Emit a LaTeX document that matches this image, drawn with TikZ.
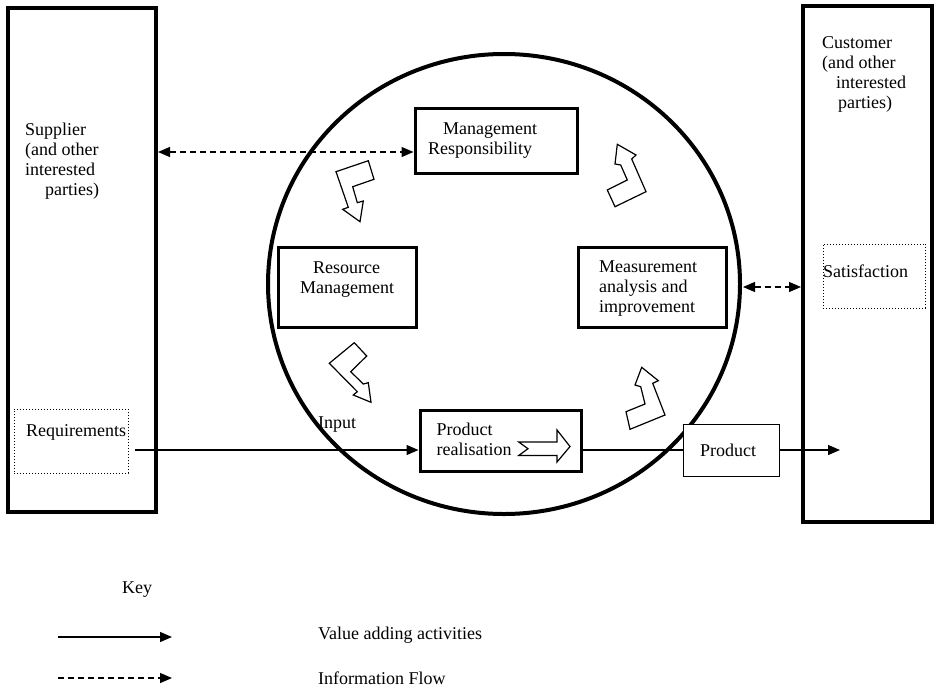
\documentclass[tikz,border=0pt]{standalone}
\usepackage{fontspec}
\setmainfont{Liberation Serif}
\usetikzlibrary{arrows.meta,shapes.geometric}

\begin{document}
\begin{tikzpicture}[x=1pt,y=-1pt,
  every node/.style={font=\fontsize{18}{20}\selectfont, inner sep=0pt},
  panel/.style={draw, line width=4pt, rectangle, inner sep=0pt},
  stage/.style={draw, line width=3pt, rectangle, inner sep=0pt},
  plainbox/.style={draw, line width=1pt, fill=white, rectangle, inner sep=0pt},
  dotbox/.style={draw, line width=1pt, dotted, rectangle, inner sep=0pt},
  txt/.style={anchor=west, align=left},
  flow/.style={line width=1.3pt, -{Triangle[length=12pt,width=10pt]}},
  info/.style={line width=1.3pt, dash pattern=on 6pt off 4pt,
               {Triangle[length=12pt,width=10pt]}-{Triangle[length=12pt,width=10pt]}},
  infokey/.style={line width=1.3pt, dash pattern=on 6pt off 4pt, -{Triangle[length=12pt,width=10pt]}},
  turn/.style={draw, line width=1.2pt, fill=white, line join=miter}]

\useasboundingbox (0,0) rectangle (936,688);

% outer parties
\node[panel, minimum width=148.5pt, minimum height=504pt] (supplier) at (81.75,260) {};
\node[panel, minimum width=129pt, minimum height=516pt] (customer) at (867.5,264) {};

% process stages
\node[stage, minimum width=162pt, minimum height=65pt] (mgmt) at (496,140.5) {};
\node[stage, minimum width=138pt, minimum height=79.5pt] (res) at (347,287.25) {};
\node[stage, minimum width=148pt, minimum height=80pt] (meas) at (652,287) {};
\node[stage, minimum width=161.5pt, minimum height=61.5pt] (real) at (500.75,440.75) {};

% dotted inputs / outputs
\node[dotbox, minimum width=114pt, minimum height=64pt] (req) at (71,441.3) {};
\node[dotbox, minimum width=102.4pt, minimum height=64pt] (sat) at (874.5,276) {};

% texts
\node[txt] (tsup) at (25,161) {Supplier\\(and other\\interested\\\hspace*{20pt}parties)};
\node[txt] (tcus) at (822,74.5) {Customer\\(and other\\\hspace*{14pt}interested\\\hspace*{16pt}parties)};
\node[txt] (tmgmt) at (428,140.5) {\hspace*{15pt}Management\\Responsibility};
\node[txt] (tres) at (300,279.5) {\hspace*{13pt}Resource\\Management};
\node[txt] (tmeas) at (599,289) {Measurement\\analysis and\\improvement};
\node[txt] (treal) at (436.5,439.5) {Product\\realisation};
\node[txt] (tin) at (318,425) {Input};
\node[txt] (tsat) at (823,271) {Satisfaction};
\node[txt] (treq) at (26,432) {Requirements};
\node[txt] (tkey) at (122,590) {Key};
\node[txt] (tval) at (318,635) {Value adding activities};
\node[txt] (tinfo) at (318,678) {Information Flow};

% process cycle, drawn over the labels it crosses
\node[draw, ellipse, line width=4pt, minimum width=472pt, minimum height=460pt] (cyc) at (504,284) {};

% product output box sits on top of the cycle
\node[plainbox, minimum width=96pt, minimum height=52pt] (prod) at (731,450) {};
\node[txt] (tprod) at (700,450) {Product};

% connector end points
\coordinate (supE) at (158,152);
\coordinate (cycE) at (743,287);
\coordinate (cusW) at (801,287);
\coordinate (reqE) at (135,450);
\coordinate (outE) at (840,450);
\coordinate (k1a) at (58,637);
\coordinate (k1b) at (172,637);
\coordinate (k2a) at (58,678);
\coordinate (k2b) at (172,678);

% information flow
\draw[info] (supE) -- (mgmt.west |- supE);
\draw[info] (cycE) -- (cusW);

% value adding chain
\draw[flow] (reqE) -- (reqE -| real.west);
\draw[line width=1.3pt] (real.east |- prod.west) -- (prod.west);
\draw[flow] (prod.east) -- (outE);

% key
\draw[flow] (k1a) -- (k1b);
\draw[infokey] (k2a) -- (k2b);

% bent arrows of the cycle
\draw[turn] (336,171.7) -- (368.3,160.7) -- (374,179.3) -- (352.7,186.7) -- (357.3,202.7)
  -- (363.3,201) -- (360,221.7) -- (342.7,209.3) -- (348.3,207.3) -- cycle;
\draw[turn] (617.3,144.3) -- (636,155) -- (631.7,159) -- (646,191.7) -- (615,206.7)
  -- (607.3,190) -- (627.3,180) -- (620.7,165) -- (615,164) -- cycle;
\draw[turn] (354.3,342.7) -- (366.7,356) -- (350.7,371.7) -- (363.3,384) -- (368.3,382.7)
  -- (371,402.3) -- (353.3,395) -- (357.3,391.7) -- (329.3,363.3) -- cycle;
\draw[turn] (641.7,367.3) -- (658.3,380.7) -- (652.7,383.3) -- (665,415) -- (630,429.3)
  -- (626,411.7) -- (645,404) -- (640.7,386.7) -- (635,385) -- cycle;

% block arrow inside product realisation
\draw[turn] (518.7,442) -- (557,442) -- (557,430) -- (570,446.5) -- (557,462)
  -- (557,455.5) -- (518.7,455.5) -- (528,448.7) -- cycle;

\end{tikzpicture}
\end{document}
